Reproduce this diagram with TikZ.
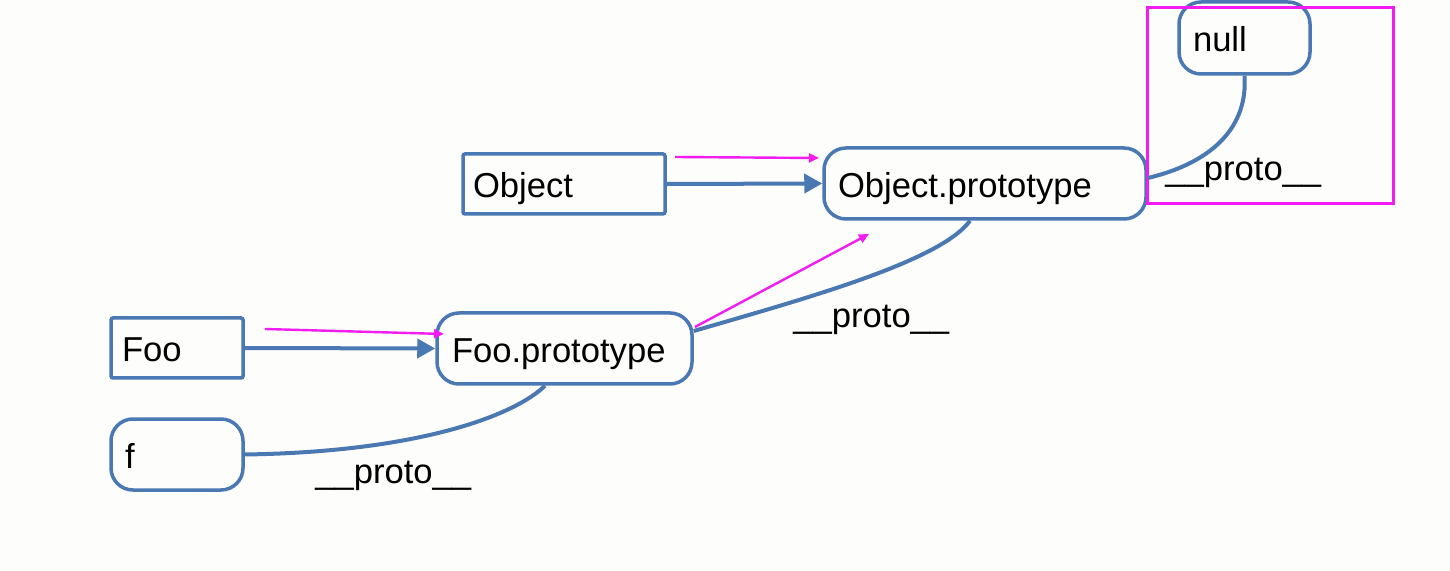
\documentclass[tikz,border=0pt]{standalone}
\usepackage{fontspec}
\setmainfont{Liberation Sans}
\usetikzlibrary{arrows.meta}
\definecolor{lblue}{HTML}{4A78B2}
\definecolor{bg}{HTML}{FDFDFB}
\definecolor{mag}{HTML}{F21CF2}
\tikzset{
  box/.style={draw=lblue, line width=1.75pt, rectangle, rounded corners=1pt, align=left,
    font=\fontsize{17.3}{20}\selectfont, text height=14pt, text depth=0pt, minimum height=#1},
  rbox/.style={box=#1, rounded corners=11pt},
  link/.style={draw=lblue, line width=2pt},
  arr/.style={link, -{Triangle[length=9pt,width=9.5pt]}},
  marr/.style={draw=mag, line width=1.2pt, -{Triangle[length=5pt,width=4.5pt]}},
  lbl/.style={font=\fontsize{17.3}{20}\selectfont, inner sep=0pt, anchor=base west},
}
\begin{document}
\begin{tikzpicture}[x=0.5pt,y=-0.5pt]
\fill[bg] (0,0) rectangle (1450,571);
\useasboundingbox (0,0) rectangle (1450,571);
% nodes
\node[box=30pt, inner xsep=5pt, text width=91pt] (obj) at (564,184) {Object};
\node[rbox=35.5pt, inner xsep=7pt, text width=147pt] (op) at (985,183.5) {Object.prototype};
\node[rbox=36pt, inner xsep=7pt, text width=51.5pt] (null) at (1244.5,38) {null};
\node[box=30pt, inner xsep=5.5pt, text width=55pt] (foo) at (177,348) {Foo};
\node[rbox=35.5pt, inner xsep=7.5pt, text width=112.5pt] (fp) at (564.5,348.5) {Foo.prototype};
\node[rbox=35.5pt, inner xsep=7pt, text width=52pt] (f) at (177,454.5) {f};
% magenta frame
\draw[mag, line width=1.5pt] (1147,8) rectangle (1393,204);
% straight arrows
\draw[arr] (obj.east) -- (op.west);
\draw[arr] (foo.east) -- (fp.west);
% proto curves
\draw[link] (f.east) .. controls (420,452) and (515,415) .. ([xshift=-9.75pt]fp.south);
\draw[link] ([yshift=8.75pt]fp.east) .. controls (800,300) and (940,262) .. ([xshift=-7.5pt]op.south);
\draw[link] ([yshift=2.75pt]op.east) .. controls (1215,162) and (1248,125) .. (null.south);
% labels
\node[lbl] (l1) at (315,483) {\_\_proto\_\_};
\node[lbl] (l2) at (793,328) {\_\_proto\_\_};
\node[lbl] (l3) at (1165,181) {\_\_proto\_\_};
% magenta arrows
\coordinate (m1s) at (675,157);
\coordinate (m1e) at (819,158);
\coordinate (m2s) at (265,329);
\coordinate (m2e) at (444,334);
\coordinate (m3s) at (695,327);
\coordinate (m3e) at (869,234);
\draw[marr] (m1s) -- (m1e);
\draw[marr] (m2s) -- (m2e);
\draw[marr] (m3s) -- (m3e);
\end{tikzpicture}
\end{document}
